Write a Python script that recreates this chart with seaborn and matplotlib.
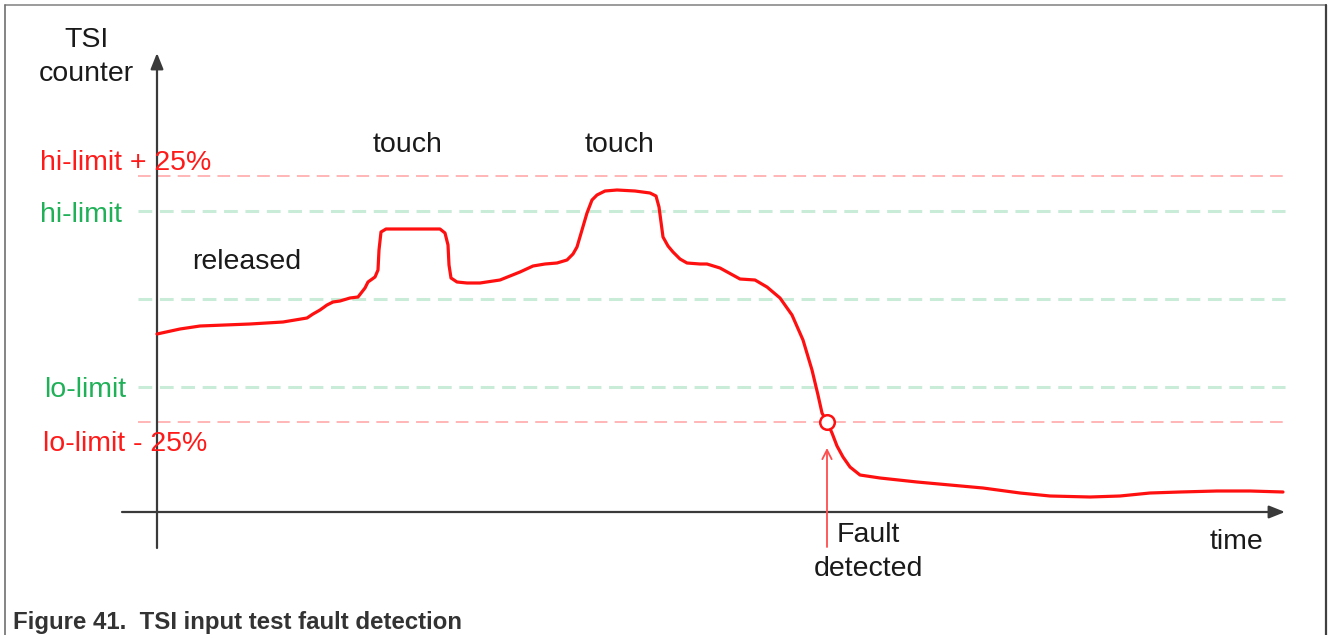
import matplotlib
matplotlib.use("Agg")
import matplotlib.pyplot as plt
from matplotlib.lines import Line2D
import seaborn as sns
import pandas as pd

# Threshold levels (counter units, measured above the time axis)
level_names = ["hi-limit + 25%", "hi-limit", "baseline", "lo-limit", "lo-limit - 25%"]
level_values = [336, 301, 213, 125, 90]

# TSI counter trace over time
time = [0, 23, 43, 93, 126, 150, 156, 163, 170, 176, 183, 193, 201, 208, 211, 218, 221, 222, 224, 229,
        283, 288, 291, 292, 294, 300, 310, 323, 343, 363, 376, 388, 400, 410, 416, 420, 425, 430, 435,
        440, 448, 460, 478, 493, 499, 502, 504, 506, 511, 516, 523, 530, 543, 550, 563, 583, 598, 610,
        623, 635, 646, 655, 661, 665, 670, 675, 680, 686, 693, 703, 723, 760, 793, 826, 863, 893, 933,
        963, 993, 1023, 1060, 1093, 1126]
counter = [178, 183, 186, 188, 190, 194, 198, 202, 207, 210, 211, 214, 215, 224, 230, 235, 242, 262, 280, 283,
           283, 279, 267, 247, 234, 230, 229, 229, 232, 240, 246, 248, 249, 252, 258, 265, 282, 299, 312,
           317, 321, 322, 321, 319, 316, 305, 290, 275, 266, 260, 253, 249, 248, 248, 244, 233, 232, 225,
           214, 197, 172, 142, 117, 99, 90, 79, 66, 55, 45, 37, 34, 30, 27, 24, 19, 16, 15,
           16, 19, 20, 21, 21, 20]

fault_time = [670]
fault_counter = [90]

x_min, x_max = -157, 1171
y_min, y_max = -123, 512

sns.set_theme(style="white")
plt.rcParams["font.family"] = ["Liberation Sans", "DejaVu Sans"]

fig = plt.figure(figsize=(13.28, 6.35), dpi=100)
ax = fig.add_axes([0, 0, 1, 1])
ax.set_xlim(x_min, x_max)
ax.set_ylim(y_min, y_max)
ax.set_axis_off()

# Dashed threshold lines
line_styles = {
    "hi-limit + 25%": dict(color="#ffb0b0", lw=1.3, dashes=(7, 4)),
    "hi-limit": dict(color="#c9ecd8", lw=2.2, dashes=(4.5, 2.5)),
    "baseline": dict(color="#c9ecd8", lw=2.2, dashes=(4.5, 2.5)),
    "lo-limit": dict(color="#c9ecd8", lw=2.2, dashes=(4.5, 2.5)),
    "lo-limit - 25%": dict(color="#ffb0b0", lw=1.3, dashes=(7, 4)),
}
for name, val in zip(level_names, level_values):
    st = line_styles[name]
    ax.plot([-19, 1128], [val, val], color=st["color"], lw=st["lw"],
            dashes=st["dashes"], zorder=1)

# Axes with arrowheads
axis_color = "#3a3a3a"
arrow_style = "-|>,head_length=0.8,head_width=0.32"
ax.annotate("", xy=(0, 459), xytext=(0, -36),
            arrowprops=dict(arrowstyle=arrow_style, color=axis_color, lw=1.6,
                            shrinkA=0, shrinkB=0), zorder=3)
ax.annotate("", xy=(1128, 0), xytext=(-35, 0),
            arrowprops=dict(arrowstyle=arrow_style, color=axis_color, lw=1.6,
                            shrinkA=0, shrinkB=0), zorder=3)

# Counter trace
df = pd.DataFrame({"time": time, "counter": counter})
sns.lineplot(data=df, x="time", y="counter", ax=ax, color="#ff1010", lw=2.3,
             estimator=None, sort=False, zorder=4, solid_joinstyle="round",
             solid_capstyle="round")

# Fault point
sns.scatterplot(x=fault_time, y=fault_counter, ax=ax, s=110, facecolor="white",
                edgecolor="#ff1010", linewidth=1.8, zorder=5)
ax.annotate("", xy=(fault_time[0], 64), xytext=(fault_time[0], -35),
            arrowprops=dict(arrowstyle="->,head_length=0.55,head_width=0.28",
                            color="#ff4d4d", lw=1.3, shrinkA=0, shrinkB=0), zorder=4)

# Labels
fs = 20.5
dark = "#1a1a1a"
red_txt = "#ff1a1a"
green_txt = "#20b058"
ax.text(-71, 455, "TSI\ncounter", ha="center", va="center", fontsize=fs,
        color=dark, linespacing=1.38)
ax.text(-117, 349, level_names[0], ha="left", va="center", fontsize=fs, color=red_txt)
ax.text(-117, 297, level_names[1], ha="left", va="center", fontsize=fs, color=green_txt)
ax.text(-113, 122, level_names[3], ha="left", va="center", fontsize=fs, color=green_txt)
ax.text(-114, 68, level_names[4], ha="left", va="center", fontsize=fs, color=red_txt)
ax.text(90, 250, "released", ha="center", va="center", fontsize=fs, color=dark)
ax.text(251, 367, "touch", ha="center", va="center", fontsize=fs, color=dark)
ax.text(463, 367, "touch", ha="center", va="center", fontsize=fs, color=dark)
ax.text(1080, -30, "time", ha="center", va="center", fontsize=fs, color=dark)
ax.text(711, -40, "Fault\ndetected", ha="center", va="center", fontsize=fs,
        color=dark, linespacing=1.38)

# Caption
ax.text(-144, -110, "Figure 41.  TSI input test fault detection", ha="left", va="center",
        fontsize=17.3, fontweight="bold", color="#333333")

# Frame around the figure
W, H = 1328, 635
fig.add_artist(Line2D([5 / W, 1326 / W], [1 - 5 / H, 1 - 5 / H], color="#8a8a8a", lw=1.2))
fig.add_artist(Line2D([5 / W, 5 / W], [0, 1 - 5 / H], color="#707070", lw=1.2))
fig.add_artist(Line2D([1326 / W, 1326 / W], [0, 1 - 5 / H], color="#404040", lw=1.6))

fig.savefig("out.png", dpi=100)
